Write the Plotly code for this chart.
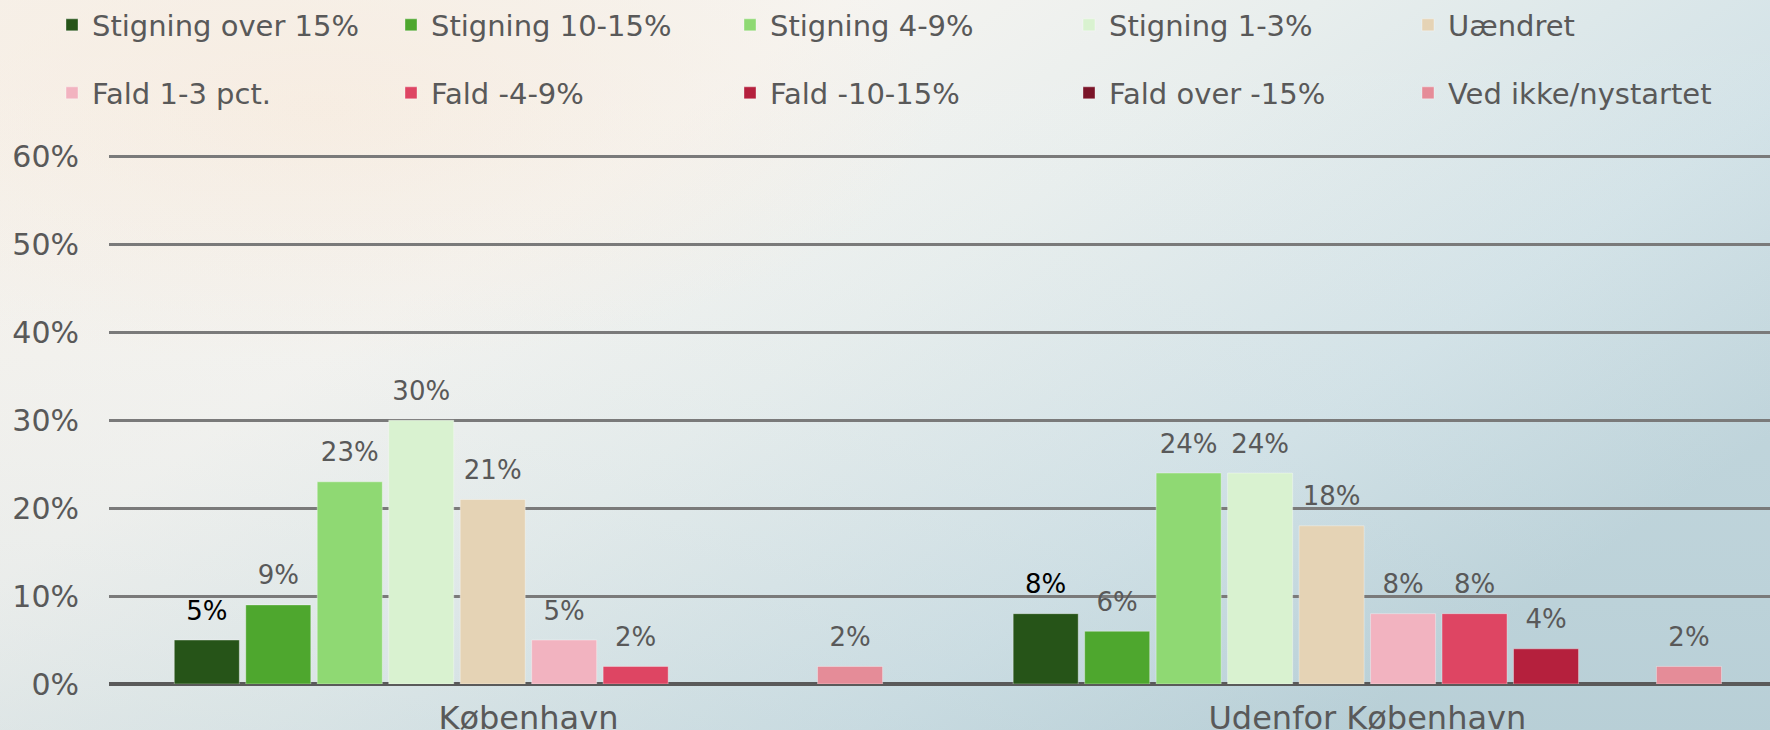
import base64
import plotly.graph_objects as go

# ---------------- data ----------------
categories = ["København", "Udenfor København"]
series_names = [
    "Stigning over 15%", "Stigning 10-15%", "Stigning 4-9%", "Stigning 1-3%", "Uændret",
    "Fald 1-3 pct.", "Fald -4-9%", "Fald -10-15%", "Fald over -15%", "Ved ikke/nystartet",
]
kbh_values = [5, 9, 23, 30, 21, 5, 2, None, None, 2]
udenfor_values = [8, 6, 24, 24, 18, 8, 8, 4, None, 2]
y_tick_values = [0, 10, 20, 30, 40, 50, 60]
y_tick_labels = ["0%", "10%", "20%", "30%", "40%", "50%", "60%"]

# ---------------- style ----------------
W, H = 1770, 730
Y_MAX = 60.3
ML, MR, MB = 109, 0, 46
MT = 730 - MB - (684 - 157) / 60 * Y_MAX
FONT = "DejaVu Sans"
GREY = "#595959"
colors = ["#265418", "#4ea72e", "#8fd973", "#d9f2d0", "#e5d3b5",
          "#f2b3c0", "#de4563", "#b5203d", "#7a1428", "#e58c98"]
label_colors = ["#000000"] + [GREY] * 9
# legend slot assignment: each legend row is split in two legends
legend_of = ["legend", "legend", "legend", "legend3", "legend3",
             "legend2", "legend2", "legend2", "legend4", "legend4"]


def fmt(v):
    if v is None:
        return ""
    return ("<span style='font-size:26px'>%d%%</span><br>"
            "<span style='font-size:1px;color:rgba(0,0,0,0)'>.</span>" % v)


fig = go.Figure()
for i, name in enumerate(series_names):
    vals = [kbh_values[i], udenfor_values[i]]
    fig.add_trace(go.Bar(
        x=categories,
        y=vals,
        name=name,
        marker=dict(color=colors[i], line=dict(width=1, color="rgba(255,255,255,0.35)")),
        text=[fmt(v) for v in vals],
        texttemplate="%{text}",
        textposition="outside",
        constraintext="none",
        cliponaxis=False,
        textfont=dict(family=FONT, size=13.5, color=label_colors[i]),
        legend=legend_of[i],
        hoverinfo="skip",
    ))

# background gradient (decorative)
svg = f"""<svg xmlns='http://www.w3.org/2000/svg' width='{W}' height='{H}' viewBox='0 0 {W} {H}' preserveAspectRatio='none'>
<defs>
<linearGradient id='g' x1='0' y1='0' x2='1' y2='0.6'>
<stop offset='0' stop-color='#f6f1ea'/>
<stop offset='0.35' stop-color='#f6f4f0'/>
<stop offset='0.55' stop-color='#e8eeed'/>
<stop offset='0.8' stop-color='#d2e2e7'/>
<stop offset='1' stop-color='#bdd3da'/>
</linearGradient>
<radialGradient id='r' cx='0.18' cy='0.15' r='0.35'>
<stop offset='0' stop-color='#f7ece0' stop-opacity='0.9'/>
<stop offset='1' stop-color='#f7ece0' stop-opacity='0'/>
</radialGradient>
<linearGradient id='b' x1='0' y1='0' x2='0' y2='1'>
<stop offset='0' stop-color='#ffffff' stop-opacity='0'/>
<stop offset='1' stop-color='#a9c3cc' stop-opacity='0.25'/>
</linearGradient>
</defs>
<rect width='{W}' height='{H}' fill='url(#g)'/>
<rect width='{W}' height='{H}' fill='url(#r)'/>
<rect width='{W}' height='{H}' fill='url(#b)'/>
</svg>"""
src = "data:image/svg+xml;base64," + base64.b64encode(svg.encode()).decode()
pw, ph = W - ML - MR, H - MT - MB
fig.add_layout_image(dict(
    source=src, xref="paper", yref="paper",
    x=-ML / pw, y=1 + MT / ph, sizex=W / pw, sizey=H / ph,
    sizing="stretch", layer="below", xanchor="left", yanchor="top",
))

ENTRY = 339
LX = 52
legend_common = dict(
    orientation="h", xref="container", yref="container",
    xanchor="left", yanchor="middle",
    entrywidth=ENTRY - 45, entrywidthmode="pixels",
    itemwidth=30, bgcolor="rgba(0,0,0,0)",
    font=dict(family=FONT, size=29, color=GREY),
    itemclick=False, itemdoubleclick=False,
)

fig.update_layout(
    width=W, height=H,
    margin=dict(l=ML, r=MR, t=MT, b=MB, autoexpand=False),
    paper_bgcolor="#eef0ee",
    plot_bgcolor="rgba(0,0,0,0)",
    barmode="group",
    bargap=0.148,
    bargroupgap=0.09,
    font=dict(family=FONT, color=GREY),
    legend=dict(x=LX / W, y=1 - 25 / H, **legend_common),
    legend3=dict(x=(LX + 3 * ENTRY) / W, y=1 - 25 / H, **legend_common),
    legend2=dict(x=LX / W, y=1 - 93 / H, **legend_common),
    legend4=dict(x=(LX + 3 * ENTRY) / W, y=1 - 93 / H, **legend_common),
    xaxis=dict(
        range=[-0.5, 1.48], showgrid=False, showline=False, ticks="",
        tickfont=dict(family=FONT, size=32, color=GREY),
        ticklabelstandoff=12, fixedrange=True,
    ),
    yaxis=dict(
        range=[0, Y_MAX], tickvals=y_tick_values, ticktext=y_tick_labels,
        showgrid=True, gridcolor="#7a7a7a", gridwidth=2.5,
        zeroline=True, zerolinecolor="#5a5a5a", zerolinewidth=4,
        showline=False, ticks="",
        tickfont=dict(family=FONT, size=30, color=GREY),
        ticklabelstandoff=29, fixedrange=True,
    ),
    showlegend=True,
)

fig.write_html("out.html")
